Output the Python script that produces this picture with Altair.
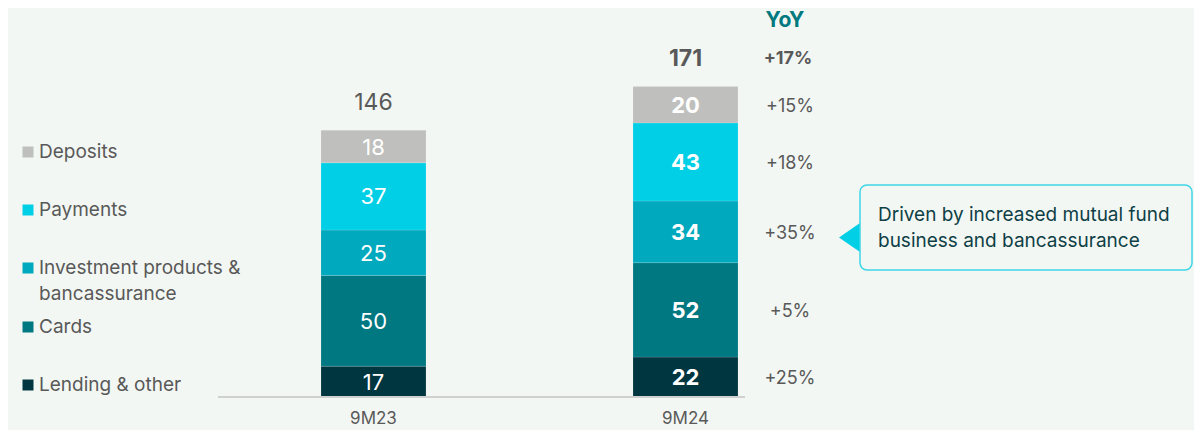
import altair as alt
import pandas as pd

# ---------------- data ----------------
periods = ["9M23", "9M24"]
segments = ["Lending & other", "Cards", "Investment products & bancassurance", "Payments", "Deposits"]
seg_colors = ["#003640", "#007882", "#00a9bd", "#00cfe6", "#bfbfbd"]
values_9m23 = [17, 50, 25, 37, 18]
values_9m24 = [22, 52, 34, 43, 20]
totals = [146, 171]
yoy_labels = ["+25%", "+5%", "+35%", "+18%", "+15%"]
yoy_total = "+17%"
legend_lines = [["Lending & other"], ["Cards"], ["Investment products &", "bancassurance"], ["Payments"], ["Deposits"]]
callout_lines = ["Driven by increased mutual fund", "business and bancassurance"]

# ---------------- styles ----------------
BG = "#f3f7f3"
GRAY = "#595959"
FONT = "Inter"
W, H = 1186, 422

rows = []
for p, vals in zip(periods, [values_9m23, values_9m24]):
    cum = 0
    for i, (s, v) in enumerate(zip(segments, vals)):
        rows.append({"period": p, "segment": s, "value": v, "order": i,
                     "start": cum, "end": cum + v, "mid": cum + v / 2,
                     "yoy": yoy_labels[i]})
        cum += v
df = pd.DataFrame(rows)
tot_df = pd.DataFrame({"period": periods, "total": totals})
one = pd.DataFrame({"a": [0]})

k = 265 / 146.0
y_scale = alt.Scale(domain=[-(H - 389) / k, 389 / k], nice=False, zero=False)
x_scale = alt.Scale(domain=periods, range=[313, 730], paddingInner=0.6635, paddingOuter=0)

X = alt.X("period:N", scale=x_scale, axis=None)

bars = alt.Chart(df).mark_bar(stroke="#ffffff", strokeWidth=0.4, strokeOpacity=0.35).encode(
    x=X,
    y=alt.Y("start:Q", scale=y_scale, axis=None),
    y2="end:Q",
    color=alt.Color("segment:N", scale=alt.Scale(domain=segments, range=seg_colors), legend=None),
)

seg_lab_23 = alt.Chart(df).transform_filter("datum.period == '9M23'").mark_text(
    font=FONT, fontSize=22, color="white", baseline="middle", dy=1
).encode(x=X, y=alt.Y("mid:Q", scale=y_scale), text="value:Q")
seg_lab_24 = alt.Chart(df).transform_filter("datum.period == '9M24'").mark_text(
    font=FONT, fontSize=22, fontWeight="bold", color="white", baseline="middle", dy=1
).encode(x=X, y=alt.Y("mid:Q", scale=y_scale), text="value:Q")

tot_23 = alt.Chart(tot_df).transform_filter("datum.period == '9M23'").mark_text(
    font=FONT, fontSize=23, color=GRAY, baseline="middle", dy=-29
).encode(x=X, y=alt.Y("total:Q", scale=y_scale), text="total:Q")
tot_24 = alt.Chart(tot_df).transform_filter("datum.period == '9M24'").mark_text(
    font=FONT, fontSize=23, fontWeight="bold", color=GRAY, baseline="middle", dy=-28
).encode(x=X, y=alt.Y("total:Q", scale=y_scale), text="total:Q")

cat_lab = alt.Chart(tot_df).mark_text(
    font=FONT, fontSize=17, color=GRAY, baseline="alphabetic"
).encode(x=X, y=alt.value(416), text="period:N")

axis_line = alt.Chart(one).mark_rule(color="#d0d0d0", strokeWidth=2).encode(
    x=alt.value(210), x2=alt.value(737), y=alt.datum(0)
)

# YoY column
yoy_title = alt.Chart(one).mark_text(
    font=FONT, fontSize=21, fontWeight="bold", color="#00797f", baseline="alphabetic"
).encode(x=alt.value(777), y=alt.value(19), text=alt.value("YoY"))
yoy_seg = alt.Chart(df).transform_filter("datum.period == '9M24'").mark_text(
    font=FONT, fontSize=18, color=GRAY, baseline="middle", dy=2
).encode(x=alt.value(782), y=alt.Y("mid:Q", scale=y_scale), text="yoy:N")
yoy_tot = alt.Chart(tot_df).transform_filter("datum.period == '9M24'").mark_text(
    font=FONT, fontSize=18, fontWeight="bold", color=GRAY, baseline="middle", dy=-28
).encode(x=alt.value(780), y=alt.Y("total:Q", scale=y_scale), text=alt.value(yoy_total))

# legend (manual)
legend_y = {"Deposits": 144, "Payments": 202, "Investment products & bancassurance": 260,
            "Cards": 319, "Lending & other": 377}
legend_layers = []
for seg, col, lines in zip(segments, seg_colors, legend_lines):
    yy = legend_y[seg]
    legend_layers.append(alt.Chart(one).mark_square(size=121, color=col, opacity=1).encode(
        x=alt.value(20), y=alt.value(yy)))
    for j, ln in enumerate(lines):
        legend_layers.append(alt.Chart(one).mark_text(
            font=FONT, fontSize=19, color=GRAY, align="left", baseline="middle"
        ).encode(x=alt.value(31), y=alt.value(yy + j * 26), text=alt.value(ln)))

# callout
box = alt.Chart(one).mark_rect(cornerRadius=7, fill=BG, stroke="#3fd6e8", strokeWidth=1.5).encode(
    x=alt.value(852), x2=alt.value(1184), y=alt.value(177), y2=alt.value(262))
arrow = alt.Chart(one).mark_point(
    shape="M-1,0L1,-1.38L1,1.38Z", filled=True, color="#00cfe6", opacity=1, size=441
).encode(x=alt.value(841.5), y=alt.value(229.5))
callout_layers = []
for j, ln in enumerate(callout_lines):
    callout_layers.append(alt.Chart(one).mark_text(
        font=FONT, fontSize=19, color="#0e3f46", align="left", baseline="middle"
    ).encode(x=alt.value(870), y=alt.value(207 + j * 26), text=alt.value(ln)))

chart = alt.layer(
    bars, seg_lab_23, seg_lab_24, tot_23, tot_24, cat_lab, axis_line,
    yoy_title, yoy_seg, yoy_tot, *legend_layers, arrow, box, *callout_layers
).properties(
    width=W, height=H, padding=0, autosize=alt.AutoSizeParams(type="none"), background=BG
).configure_view(stroke=None)

chart.save("out.html", embed_options={"renderer": "svg", "actions": False})
